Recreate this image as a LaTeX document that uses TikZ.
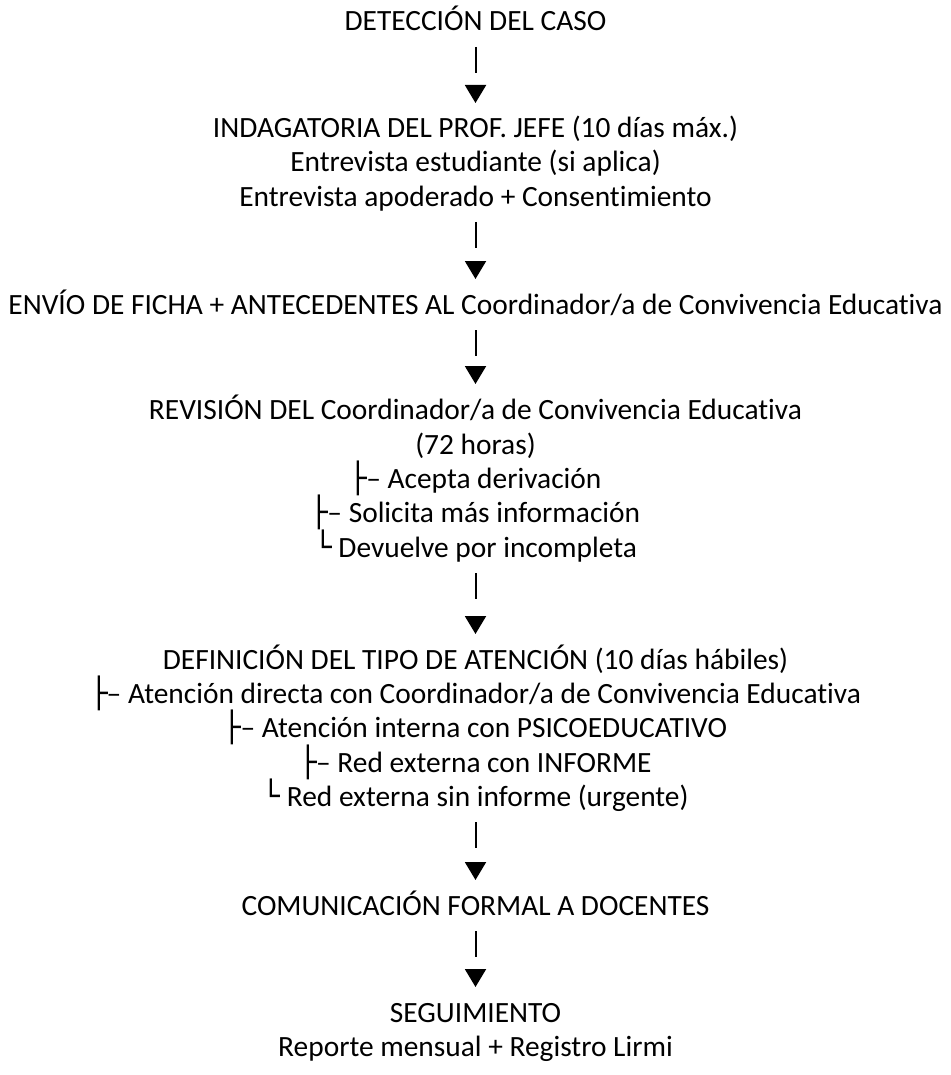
\documentclass[tikz,border=0pt]{standalone}
\usepackage{fontspec}
\setmainfont[Ligatures=NoCommon]{Carlito}
\newfontfamily\boxfont{DejaVu Sans}
\usetikzlibrary{arrows.meta}
\newcommand{\branch}{{\boxfont\symbol{"251C}}\kern-0.5pt–}
\newcommand{\lastbranch}{{\boxfont\symbol{"2514}}}
\tikzset{
  line/.style={anchor=base,inner sep=0pt,font=\fontsize{14.7}{17}\selectfont},
  flow/.style={line width=1pt,dash pattern=on 13pt off 200pt,
    -{Triangle[width=10.5pt,length=9pt]}}
}
\begin{document}
\begin{tikzpicture}[x=0.5pt,y=-0.5pt]
    \useasboundingbox (0,0) rectangle (951,1075);
    \node[line] (det) at (475.5,31) {DETECCIÓN DEL CASO};
    \node[line] (ind1) at (475.5,138) {INDAGATORIA DEL PROF. JEFE (10 días máx.)};
    \node[line] (ind2) at (475.5,172) {Entrevista estudiante (si aplica)};
    \node[line] (ind3) at (475.5,206) {Entrevista apoderado + Consentimiento};
    \node[line] (env) at (475.5,314) {ENVÍO DE FICHA + ANTECEDENTES AL Coordinador/a de Convivencia Educativa};
    \node[line] (rev1) at (475.5,419) {REVISIÓN DEL Coordinador/a de Convivencia Educativa};
    \node[line] (rev2) at (475.5,454) {(72 horas)};
    \node[line] (rev3) at (475.5,488) {\branch\ Acepta derivación};
    \node[line] (rev4) at (475.5,522) {\branch\ Solicita más información};
    \node[line] (rev5) at (475.5,557) {\lastbranch\ Devuelve por incompleta};
    \node[line] (def1) at (475.5,669) {DEFINICIÓN DEL TIPO DE ATENCIÓN (10 días hábiles)};
    \node[line] (def2) at (475.5,703) {\branch\ Atención directa con Coordinador/a de Convivencia Educativa};
    \node[line] (def3) at (475.5,737) {\branch\ Atención interna con PSICOEDUCATIVO};
    \node[line] (def4) at (475.5,772) {\branch\ Red externa con INFORME};
    \node[line] (def5) at (475.5,806) {\lastbranch\ Red externa sin informe (urgente)};
    \node[line] (com) at (475.5,915) {COMUNICACIÓN FORMAL A DOCENTES};
    \node[line] (seg1) at (475.5,1022) {SEGUIMIENTO};
    \node[line] (seg2) at (475.5,1056) {Reporte mensual + Registro Lirmi};
    % arrows
    \draw[flow] ([yshift=-8pt]det.base) -- ([yshift=17.5pt]ind1.base);
    \draw[flow] ([yshift=-8pt]ind3.base) -- ([yshift=17.5pt]env.base);
    \draw[flow] ([yshift=-8pt]env.base) -- ([yshift=17.5pt]rev1.base);
    \draw[flow] ([yshift=-8pt]rev5.base) -- ([yshift=17.5pt]def1.base);
    \draw[flow] ([yshift=-8pt]def5.base) -- ([yshift=17.5pt]com.base);
    \draw[flow] ([yshift=-8pt]com.base) -- ([yshift=17.5pt]seg1.base);
\end{tikzpicture}
\end{document}
